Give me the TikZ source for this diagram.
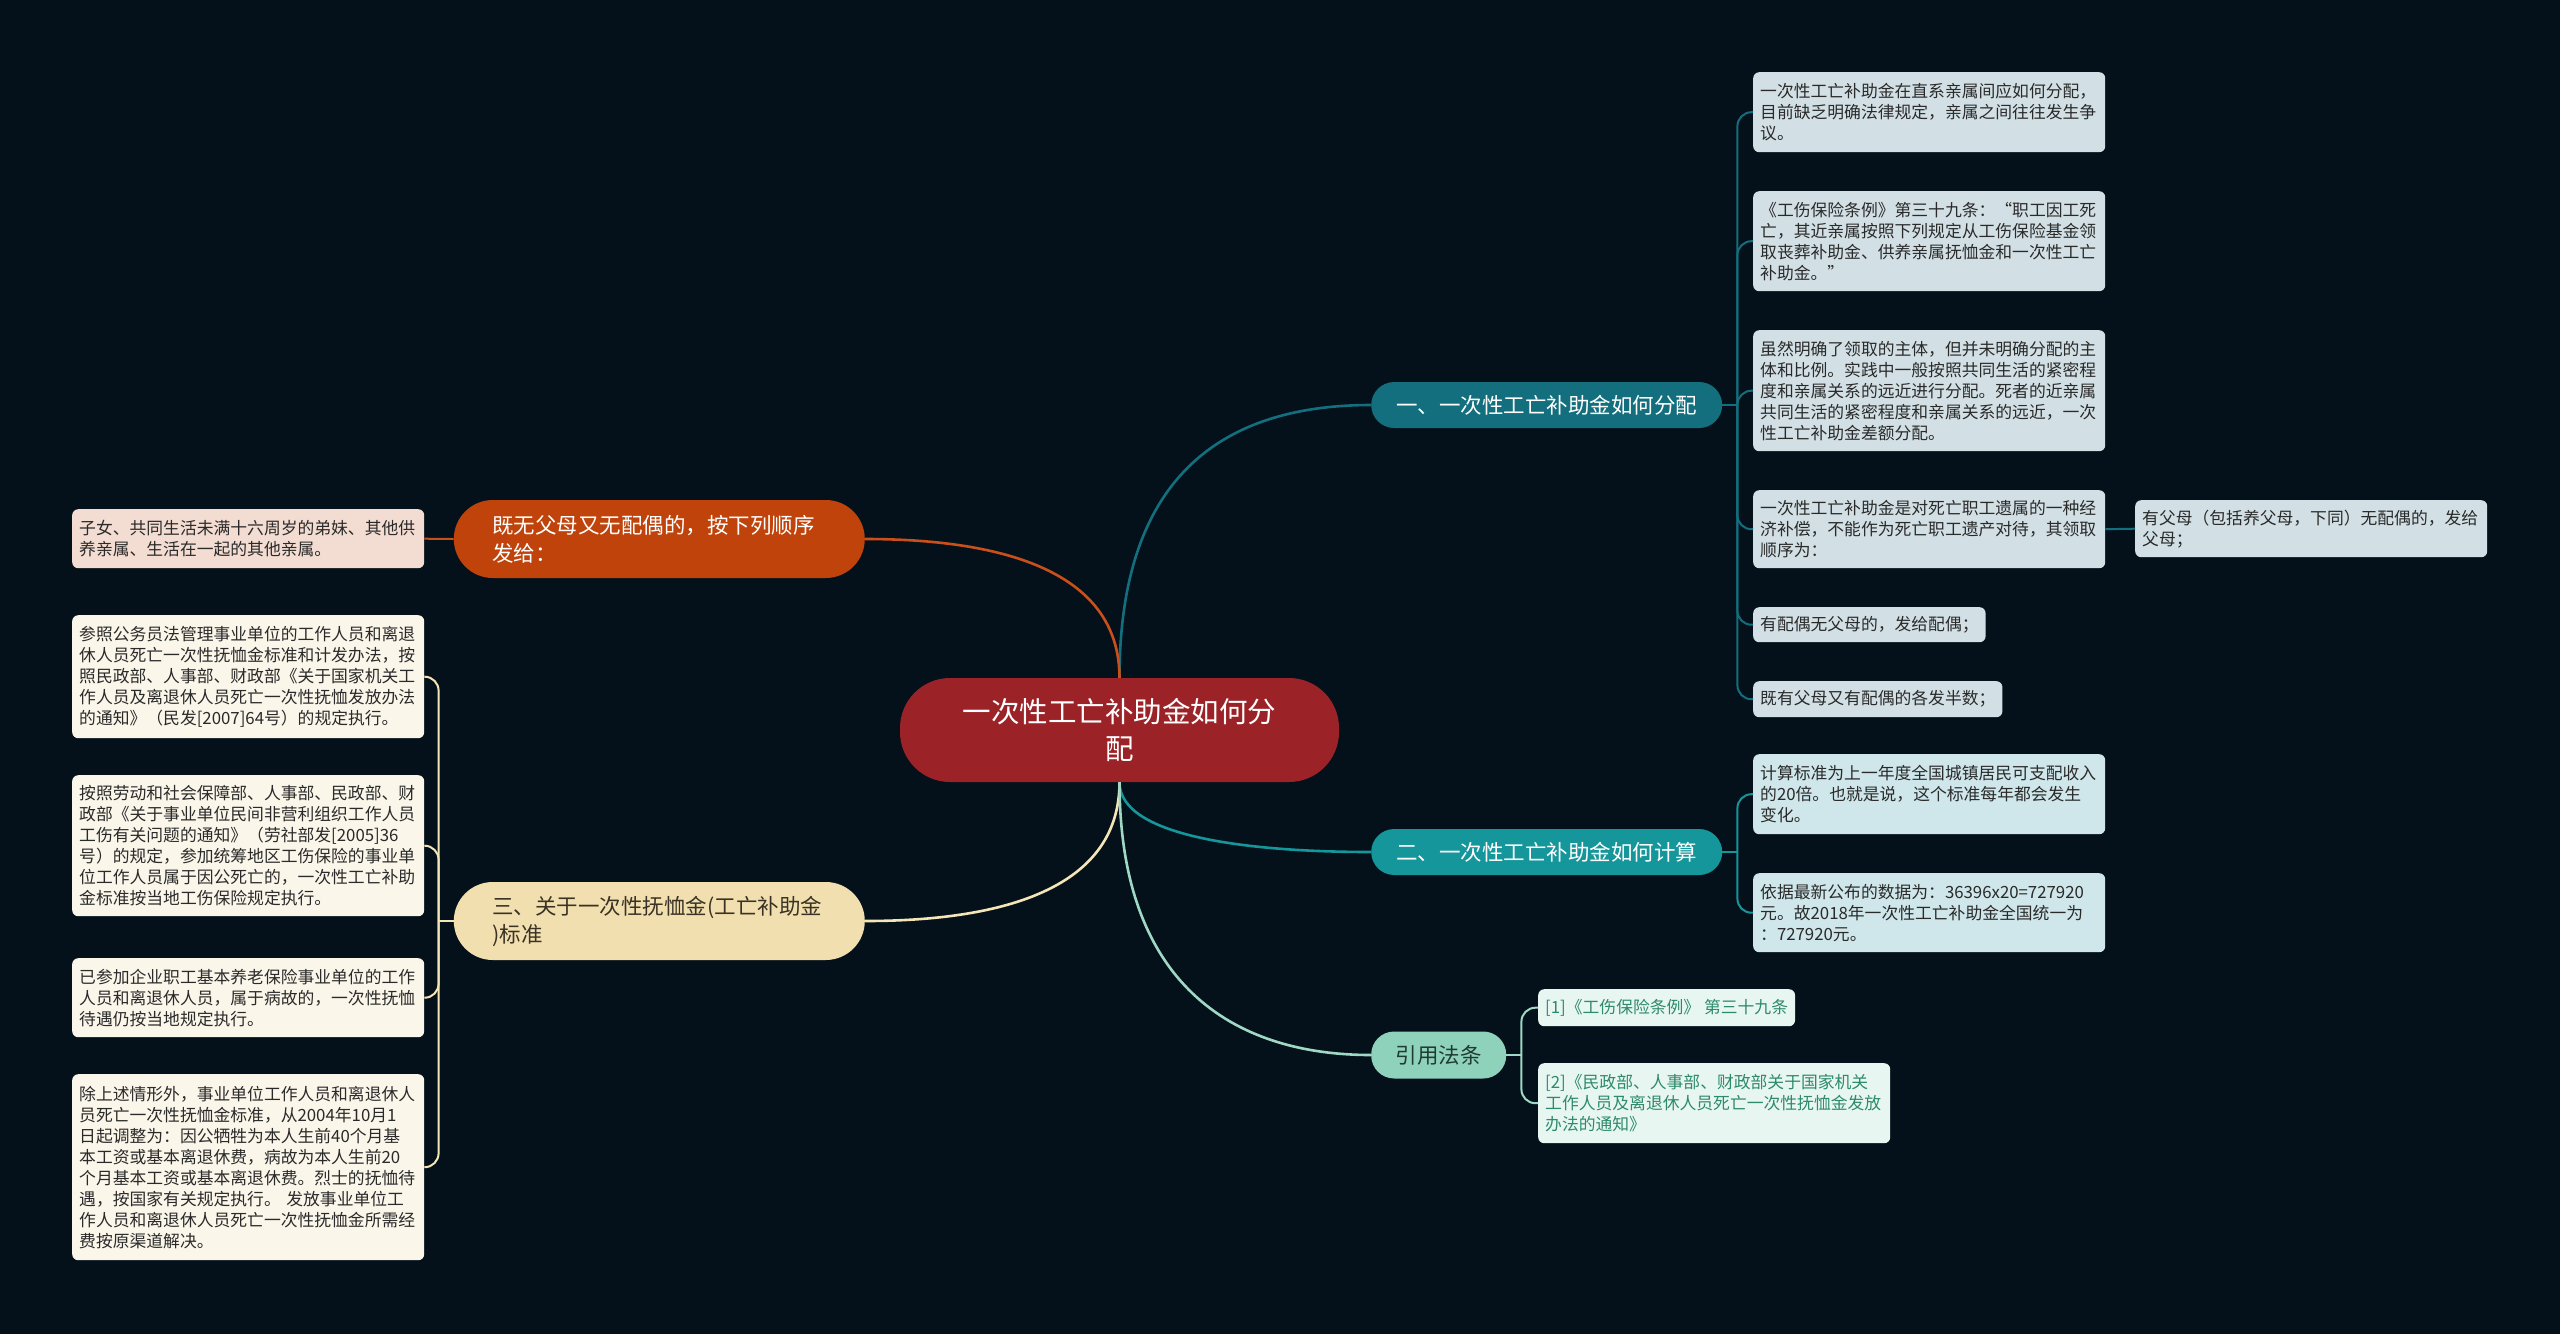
\documentclass[tikz,border=0pt]{standalone}
\usepackage{fontspec}
\setmainfont{Noto Sans CJK SC}
\usepackage{xcolor}
\usepackage{tikz}

\definecolor{bgnavy}{HTML}{05111A}
\definecolor{hubred}{HTML}{9B2328}
\definecolor{tealdeep}{HTML}{136E7D}
\definecolor{tealmid}{HTML}{14969B}
\definecolor{mintmid}{HTML}{8FD2BC}
\definecolor{mintline}{HTML}{9FD9C6}
\definecolor{mintdark}{HTML}{1F3B33}
\definecolor{rustmid}{HTML}{BF430A}
\definecolor{rustline}{HTML}{C9501A}
\definecolor{creammid}{HTML}{F1DFAF}
\definecolor{creamline}{HTML}{F5E6B8}
\definecolor{creamdark}{HTML}{3A3325}
\definecolor{tealleaf}{HTML}{D2E0E5}
\definecolor{aqualeaf}{HTML}{CFE7EA}
\definecolor{mintleaf}{HTML}{E8F6F1}
\definecolor{mintink}{HTML}{2E8A6C}
\definecolor{rustleaf}{HTML}{F3DCD1}
\definecolor{creamleaf}{HTML}{FBF6EA}
\definecolor{leafink}{HTML}{2A2A2A}

\begin{document}
\begin{tikzpicture}[x=1pt, y=-1pt,
  hub/.style={fill=hubred, text=white, rounded corners=50pt, minimum width=439pt,
    minimum height=104pt, align=center, inner sep=0pt, font=\fontsize{28.5pt}{37pt}\selectfont},
  branch/.style={rounded corners=23pt, minimum height=46pt, inner sep=0pt,
    font=\fontsize{21.5pt}{28pt}\selectfont},
  sidebranch/.style={branch, rounded corners=39pt, minimum height=78pt, text width=334pt,
    align=left, inner xsep=38.5pt, anchor=east},
  leaf/.style={rounded corners=6pt, inner xsep=7pt, inner ysep=4pt, anchor=north west,
    align=left, text=leafink, font=\fontsize{16.8pt}{21pt}\selectfont},
  wide/.style={text width=338pt},
  link/.style={line width=2.6pt},
  twig/.style={line width=2pt, rounded corners=14pt}]
  \useasboundingbox (0,0) rectangle (2560,1334);
  \fill[bgnavy] (0,0) rectangle (2560,1334);

  % centre
  \node[hub] (hub) at (1119.5,730) {一次性工亡补助金如何分\\配};

  % main branches
  \node[branch, fill=tealdeep, text=white, minimum width=351pt, anchor=west] (b1) at (1371,405) {一、一次性工亡补助金如何分配};
  \node[branch, fill=tealmid, text=white, minimum width=351pt, anchor=west] (b2) at (1371,852) {二、一次性工亡补助金如何计算};
  \node[branch, fill=mintmid, text=mintdark, minimum width=135pt, minimum height=47pt, anchor=west] (b3) at (1371,1055) {引用法条};
  \node[sidebranch, fill=rustmid, text=white] (bA) at (865,539) {既无父母又无配偶的，按下列顺序\\发给：};
  \node[sidebranch, fill=creammid, text=creamdark] (bB) at (865,921) {三、关于一次性抚恤金(工亡补助金\\)标准};

  % leaves of branch one
  \node[leaf, wide, fill=tealleaf, minimum height=80pt] (d1) at (1753,72) {一次性工亡补助金在直系亲属间应如何分配，\\目前缺乏明确法律规定，亲属之间往往发生争\\议。};
  \node[leaf, wide, fill=tealleaf, minimum height=100pt] (d2) at (1753,191) {《工伤保险条例》第三十九条：“职工因工死\\亡，其近亲属按照下列规定从工伤保险基金领\\取丧葬补助金、供养亲属抚恤金和一次性工亡\\补助金。”};
  \node[leaf, wide, fill=tealleaf, minimum height=121pt] (d3) at (1753,330) {虽然明确了领取的主体，但并未明确分配的主\\体和比例。实践中一般按照共同生活的紧密程\\度和亲属关系的远近进行分配。死者的近亲属\\共同生活的紧密程度和亲属关系的远近，一次\\性工亡补助金差额分配。};
  \node[leaf, wide, fill=tealleaf, minimum height=78pt] (d4) at (1753,490) {一次性工亡补助金是对死亡职工遗属的一种经\\济补偿，不能作为死亡职工遗产对待，其领取\\顺序为：};
  \node[leaf, wide, fill=tealleaf, minimum height=57pt] (d4a) at (2135,500) {有父母（包括养父母，下同）无配偶的，发给\\父母；};
  \node[leaf, fill=tealleaf, minimum height=35pt] (d5) at (1753,607) {有配偶无父母的，发给配偶；};
  \node[leaf, fill=tealleaf, minimum height=36pt] (d6) at (1753,681) {既有父母又有配偶的各发半数；};

  % leaves of branch two
  \node[leaf, wide, fill=aqualeaf, minimum height=80pt] (c1) at (1753,754) {计算标准为上一年度全国城镇居民可支配收入\\的20倍。也就是说，这个标准每年都会发生\\变化。};
  \node[leaf, wide, fill=aqualeaf, minimum height=79pt] (c2) at (1753,873) {依据最新公布的数据为：36396x20=727920\\元。故2018年一次性工亡补助金全国统一为\\：727920元。};

  % references
  \node[leaf, fill=mintleaf, text=mintink, minimum height=37pt] (r1) at (1538,989) {[1]《工伤保险条例》 第三十九条};
  \node[leaf, wide, fill=mintleaf, text=mintink, minimum height=80pt] (r2) at (1538,1063) {[2]《民政部、人事部、财政部关于国家机关\\工作人员及离退休人员死亡一次性抚恤金发放\\办法的通知》};

  % left side leaves
  \node[leaf, wide, fill=rustleaf, minimum height=59pt] (a1) at (72,509) {子女、共同生活未满十六周岁的弟妹、其他供\\养亲属、生活在一起的其他亲属。};
  \node[leaf, wide, fill=creamleaf, minimum height=123pt] (s1) at (72,615) {参照公务员法管理事业单位的工作人员和离退\\休人员死亡一次性抚恤金标准和计发办法，按\\照民政部、人事部、财政部《关于国家机关工\\作人员及离退休人员死亡一次性抚恤发放办法\\的通知》（民发[2007]64号）的规定执行。};
  \node[leaf, wide, fill=creamleaf, minimum height=141pt] (s2) at (72,775) {按照劳动和社会保障部、人事部、民政部、财\\政部《关于事业单位民间非营利组织工作人员\\工伤有关问题的通知》（劳社部发[2005]36\\号）的规定，参加统筹地区工伤保险的事业单\\位工作人员属于因公死亡的，一次性工亡补助\\金标准按当地工伤保险规定执行。};
  \node[leaf, wide, fill=creamleaf, minimum height=79pt] (s3) at (72,958) {已参加企业职工基本养老保险事业单位的工作\\人员和离退休人员，属于病故的，一次性抚恤\\待遇仍按当地规定执行。};
  \node[leaf, wide, fill=creamleaf, minimum height=186pt] (s4) at (72,1074) {除上述情形外，事业单位工作人员和离退休人\\员死亡一次性抚恤金标准，从2004年10月1\\日起调整为：因公牺牲为本人生前40个月基\\本工资或基本离退休费，病故为本人生前20\\个月基本工资或基本离退休费。烈士的抚恤待\\遇，按国家有关规定执行。 发放事业单位工\\作人员和离退休人员死亡一次性抚恤金所需经\\费按原渠道解决。};

  % main links
  \draw[link, tealdeep] (hub.north) .. controls +(0,-190) and +(-160,0) .. (b1.west);
  \draw[link, rustline] (hub.north) .. controls +(0,-110) and +(130,0) .. (bA.east);
  \draw[link, creamline] (hub.south) .. controls +(0,110) and +(130,0) .. (bB.east);
  \draw[link, tealmid] (hub.south) .. controls +(0,55) and +(-120,0) .. (b2.west);
  \draw[link, mintline] (hub.south) .. controls +(0,200) and +(-140,0) .. (b3.west);

  % junctions
  \path (b1.east) ++(15,0) coordinate (j1);
  \path (b2.east) ++(15,0) coordinate (j2);
  \path (b3.east) ++(15,0) coordinate (j3);
  \path (bB.west) ++(-15,0) coordinate (jB);

  % twigs
  \draw[twig, tealdeep] (b1.east) -- (j1);
  \foreach \leaf in {d1,d2,d3,d4,d5,d6}
    \draw[twig, tealdeep] (j1) |- (\leaf.west);
  \draw[twig, tealdeep] (d4.east) -- (d4a.west);
  \draw[twig, tealmid] (b2.east) -- (j2);
  \foreach \leaf in {c1,c2}
    \draw[twig, tealmid] (j2) |- (\leaf.west);
  \draw[twig, mintline] (b3.east) -- (j3);
  \foreach \leaf in {r1,r2}
    \draw[twig, mintline] (j3) |- (\leaf.west);
  \draw[twig, rustline] (bA.west) -- (a1.east);
  \draw[twig, creamline] (bB.west) -- (jB);
  \foreach \leaf in {s1,s2,s3,s4}
    \draw[twig, creamline] (jB) |- (\leaf.east);
\end{tikzpicture}
\end{document}
